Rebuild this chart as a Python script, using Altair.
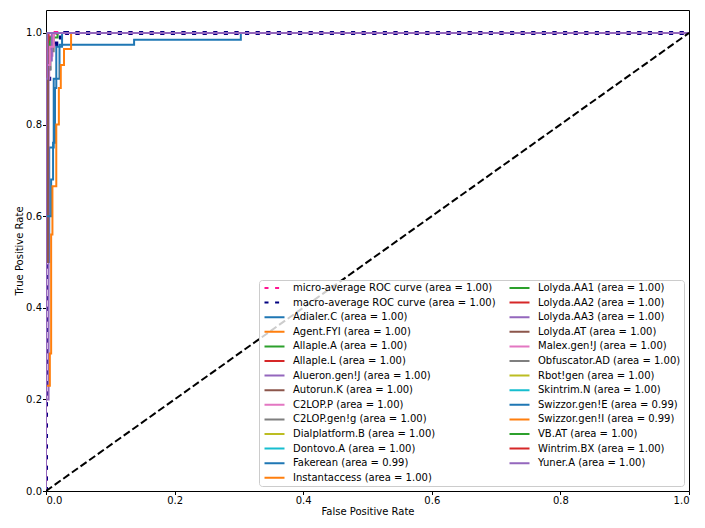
import altair as alt
import pandas as pd

# ---------------- data ----------------
AVG_NAMES = ["micro-average ROC curve", "macro-average ROC curve"]
AVG_AREAS = [1.00, 1.00]
AVG_COLORS = ["#ff1493", "#000080"]
micro_fpr = [0, 0, 0.004, 0.004, 0.008, 0.008, 0.015, 0.015, 1]
micro_tpr = [0, 0.93, 0.93, 0.97, 0.97, 0.99, 0.99, 1, 1]
macro_fpr = [0, 0, 0.005, 0.005, 0.009, 0.009, 0.016, 0.016, 0.03, 0.03, 1]
macro_tpr = [0, 0.9, 0.9, 0.948, 0.948, 0.975, 0.975, 0.99, 0.99, 1, 1]

CLASS_NAMES = [
    "Adialer.C", "Agent.FYI", "Allaple.A", "Allaple.L", "Alueron.gen!J",
    "Autorun.K", "C2LOP.P", "C2LOP.gen!g", "Dialplatform.B", "Dontovo.A",
    "Fakerean", "Instantaccess", "Lolyda.AA1", "Lolyda.AA2", "Lolyda.AA3",
    "Lolyda.AT", "Malex.gen!J", "Obfuscator.AD", "Rbot!gen", "Skintrim.N",
    "Swizzor.gen!E", "Swizzor.gen!I", "VB.AT", "Wintrim.BX", "Yuner.A",
]
CLASS_AREAS = [1.00, 1.00, 1.00, 1.00, 1.00, 1.00, 1.00, 1.00, 1.00, 1.00,
               0.99, 1.00, 1.00, 1.00, 1.00, 1.00, 1.00, 1.00, 1.00, 1.00,
               0.99, 0.99, 1.00, 1.00, 1.00]
CLASS_FPR = [
    [0, 0, 1],
    [0, 0, 0.003, 0.003, 1],
    [0, 0, 0.006, 0.006, 0.018, 0.018, 1],
    [0, 0, 0.004, 0.004, 1],
    [0, 0, 1],
    [0, 0, 1],
    [0, 0, 0.005, 0.005, 0.01, 0.01, 1],
    [0, 0, 0.007, 0.007, 0.012, 0.012, 1],
    [0, 0, 1],
    [0, 0, 1],
    [0, 0, 0.005, 0.005, 0.012, 0.012, 0.021, 0.021, 0.137, 0.137, 0.303, 0.303, 1],
    [0, 0, 0.002, 0.002, 1],
    [0, 0, 1],
    [0, 0, 1],
    [0, 0, 0.004, 0.004, 0.009, 0.009, 1],
    [0, 0, 0.003, 0.003, 1],
    [0, 0, 0.006, 0.006, 0.012, 0.012, 1],
    [0, 0, 1],
    [0, 0, 1],
    [0, 0, 1],
    [0, 0, 0.008, 0.008, 0.011, 0.011, 0.014, 0.014, 0.016, 0.016, 0.025, 0.025, 1],
    [0, 0, 0.006, 0.006, 0.008, 0.008, 0.01, 0.01, 0.016, 0.016, 0.02, 0.02,
     0.023, 0.023, 0.028, 0.028, 0.039, 0.039, 1],
    [0, 0, 1],
    [0, 0, 0.003, 0.003, 1],
    [0, 0, 0.002, 0.002, 1],
]
CLASS_TPR = [
    [0, 1, 1],
    [0, 0.96, 0.96, 1, 1],
    [0, 0.97, 0.97, 0.99, 0.99, 1, 1],
    [0, 0.985, 0.985, 1, 1],
    [0, 1, 1],
    [0, 1, 1],
    [0, 0.9, 0.9, 0.95, 0.95, 1, 1],
    [0, 0.92, 0.92, 0.96, 0.96, 1, 1],
    [0, 1, 1],
    [0, 1, 1],
    [0, 0.5, 0.5, 0.75, 0.75, 0.9, 0.9, 0.974, 0.974, 0.985, 0.985, 1, 1],
    [0, 0.95, 0.95, 1, 1],
    [0, 1, 1],
    [0, 1, 1],
    [0, 0.2, 0.2, 0.94, 0.94, 1, 1],
    [0, 0.5, 0.5, 1, 1],
    [0, 0.93, 0.93, 0.97, 0.97, 1, 1],
    [0, 1, 1],
    [0, 1, 1],
    [0, 1, 1],
    [0, 0.6, 0.6, 0.68, 0.68, 0.76, 0.76, 0.88, 0.88, 0.97, 0.97, 1, 1],
    [0, 0.23, 0.23, 0.3, 0.3, 0.56, 0.56, 0.665, 0.665, 0.8, 0.8, 0.88,
     0.88, 0.93, 0.93, 0.965, 0.965, 1, 1],
    [0, 1, 1],
    [0, 0.98, 0.98, 1, 1],
    [0, 0.9, 0.9, 1, 1],
]
TAB10 = ["#1f77b4", "#ff7f0e", "#2ca02c", "#d62728", "#9467bd",
         "#8c564b", "#e377c2", "#7f7f7f", "#bcbd22", "#17becf"]
DIAG_X = [0, 1]
DIAG_Y = [0, 1]
X_TICKS = [0, 0.2, 0.4, 0.6, 0.8, 1.0]
Y_TICKS = [0, 0.2, 0.4, 0.6, 0.8, 1.0]

# ---------------- build tables ----------------
labels, colors, dashes = [], [], []
rows = []
avg_curves = [(micro_fpr, micro_tpr), (macro_fpr, macro_tpr)]
for k, name in enumerate(AVG_NAMES):
    lab = f"{name} (area = {AVG_AREAS[k]:.2f})"
    labels.append(lab); colors.append(AVG_COLORS[k]); dashes.append([4, 6.6])
    for i, (fx, ty) in enumerate(zip(*avg_curves[k])):
        rows.append({"series": lab, "fpr": fx, "tpr": ty, "i": i, "grp": "avg"})
for k, name in enumerate(CLASS_NAMES):
    lab = f"{name} (area = {CLASS_AREAS[k]:.2f})"
    labels.append(lab); colors.append(TAB10[k % 10]); dashes.append([1, 0])
    for i, (fx, ty) in enumerate(zip(CLASS_FPR[k], CLASS_TPR[k])):
        rows.append({"series": lab, "fpr": fx, "tpr": ty, "i": i, "grp": "cls"})
df = pd.DataFrame(rows)

xenc = alt.X("fpr:Q", scale=alt.Scale(domain=[0, 1], nice=False, zero=False),
             axis=alt.Axis(values=X_TICKS, format=".1f", title="False Positive Rate"))
yenc = alt.Y("tpr:Q", scale=alt.Scale(domain=[0, 1.05], nice=False, zero=False),
             axis=alt.Axis(values=Y_TICKS, format=".1f", title="True Positive Rate"))
leg = alt.Legend(title=None, orient="bottom-right", offset=5, columns=2,
                 symbolType="M-4,0H4", symbolSize=25, symbolOffset=7.5,
                 symbolStrokeWidth=2,
                 labelFontSize=10, labelFont="DejaVu Sans", labelColor="#000000",
                 labelLimit=400, labelOffset=13.5, rowPadding=4.6, columnPadding=9,
                 padding=3, fillColor="rgba(255,255,255,0.8)", strokeColor="#cccccc",
                 cornerRadius=3)
cenc = alt.Color("series:N", scale=alt.Scale(domain=labels, range=colors), legend=leg)
denc = alt.StrokeDash("series:N", scale=alt.Scale(domain=labels, range=dashes), legend=leg)

base = alt.Chart(df)
avg_layer = base.transform_filter(alt.datum.grp == "avg").mark_line(
    clip=True, strokeWidth=4).encode(
    x=xenc, y=yenc, color=cenc, strokeDash=denc, order=alt.Order("i:Q"))
cls_layer = base.transform_filter(alt.datum.grp == "cls").mark_line(
    clip=True, strokeWidth=2).encode(
    x=xenc, y=yenc, color=cenc, strokeDash=denc, order=alt.Order("i:Q"))
diag = alt.Chart(pd.DataFrame({"fpr": DIAG_X, "tpr": DIAG_Y})).mark_line(
    color="black", strokeDash=[7.4, 3.2], strokeWidth=2, clip=True).encode(x="fpr:Q", y="tpr:Q")

chart = alt.layer(avg_layer, cls_layer, diag).properties(
    width=643, height=481,
    autosize=alt.AutoSizeParams(type="none"),
    padding={"left": 38, "top": 2, "right": 8, "bottom": 25},
).configure_view(stroke="black", strokeWidth=1).configure_axis(
    grid=False, domain=False, tickColor="black", tickSize=3.5, tickWidth=1,
    labelColor="#000000", labelFont="DejaVu Sans", labelFontSize=10, labelPadding=1,
    titleFont="DejaVu Sans", titleFontSize=10, titleFontWeight="normal",
    titleColor="#000000", titlePadding=1,
)

chart.save("out.html", embed_options={"renderer": "svg", "actions": False})
